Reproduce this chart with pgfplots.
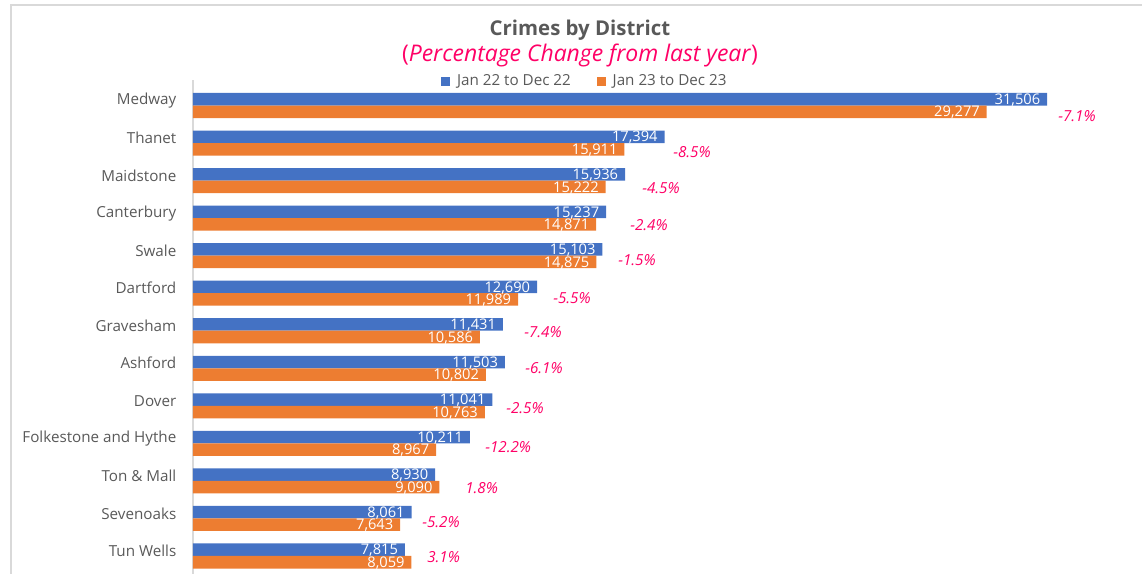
\documentclass[border=0pt]{standalone}
\usepackage{pgfplots}
\pgfplotsset{compat=1.18}
\usepackage{pgfplotstable}
\usepackage{fontspec}
\setmainfont{Open Sans}
\definecolor{cblue}{HTML}{4472C4}
\definecolor{corange}{HTML}{ED7D31}
\definecolor{cgray}{HTML}{595959}
\definecolor{cpink}{HTML}{FF0066}
\definecolor{cline}{HTML}{D9D9D9}
\newcommand{\lbl}{\fontsize{11.4}{13.5}\selectfont}
\newcommand{\vlbl}{\fontsize{11}{13}\selectfont}

\pgfplotstableread{
y v22 v23
12 31506 29277
11 17394 15911
10 15936 15222
9 15237 14871
8 15103 14875
7 12690 11989
6 11431 10586
5 11503 10802
4 11041 10763
3 10211 8967
2 8930 9090
1 8061 7643
0 7815 8059
}\crimes

\pgfplotstableread{
x y lbl
31907 11.72 -7.1
17706 10.76 -8.5
16562 9.80 -4.5
16120 8.82 -2.4
15677 7.88 -1.5
13279 6.87 -5.5
12210 5.97 -7.4
12246 5.01 -6.1
11546 3.94 -2.5
10771 2.90 -12.2
10033 1.81 1.8
8447 0.91 -5.2
8632 -0.03 3.1
}\pct

\begin{document}
\begin{tikzpicture}
\useasboundingbox (-144.75pt,0) rectangle (711.75pt,430.5pt);
\draw[cline, line width=1pt] (-136.5pt,0) -- (-136.5pt,426.75pt) -- (711.75pt,426.75pt);
\node[font=\fontsize{15.3}{18}\selectfont\bfseries, text=cgray] at (290.25pt,408pt) {Crimes by District};
\node[font=\fontsize{17.2}{20}\selectfont, text=cpink] at (290.25pt,389.25pt) {(\textit{Percentage Change from last year})};
\begin{axis}[
  at={(0pt,0pt)}, anchor=south west,
  scale only axis, width=691.3pt, height=370.5pt,
  xmin=0, xmax=34000, ymin=-0.48, ymax=12.68,
  axis x line=none, axis y line*=left,
  y axis line style={cline, line width=1pt, -},
  ytick={0,...,12},
  yticklabels={Tun Wells, Sevenoaks, Ton \& Mall, Folkestone and Hythe, Dover, Ashford, Gravesham, Dartford, Swale, Canterbury, Maidstone, Thanet, Medway},
  major tick length=0pt,
  yticklabel style={font=\lbl, text=cgray, xshift=-9pt, yshift=3.8pt},
  clip=false,
  legend style={at={(0.4255,0.9975)}, anchor=center, draw=none, fill=none,
    legend columns=2, font=\lbl, text=cgray,
    /tikz/every even column/.append style={column sep=17.5pt}},
]
\addlegendimage{legend image code/.code={\fill[cblue] (0pt,-3pt) rectangle (6pt,3pt); \path (9.5pt,0pt);}}
\addlegendentry{Jan 22 to Dec 22}
\addlegendimage{legend image code/.code={\fill[corange] (0pt,-3pt) rectangle (6pt,3pt); \path (9.5pt,0pt);}}
\addlegendentry{Jan 23 to Dec 23}

\addplot[xbar, bar width=9.4pt, bar shift=4.7pt, fill=cblue, draw=none, forget plot,
  point meta=x,
  nodes near coords={\pgfmathprintnumber[fixed,precision=0,1000 sep={,},assume math mode=true]{\pgfplotspointmeta}},
  every node near coord/.append style={anchor=base east, inner sep=0pt, xshift=-5pt, yshift=0.8pt, text=white, font=\vlbl}]
  table[x=v22, y=y] {\crimes};
\addplot[xbar, bar width=9.4pt, bar shift=-4.7pt, fill=corange, draw=none, forget plot,
  point meta=x,
  nodes near coords={\pgfmathprintnumber[fixed,precision=0,1000 sep={,},assume math mode=true]{\pgfplotspointmeta}},
  every node near coord/.append style={anchor=base east, inner sep=0pt, xshift=-5pt, yshift=-8.6pt, text=white, font=\vlbl}]
  table[x=v23, y=y] {\crimes};
\addplot[draw=none, mark=none, forget plot,
  point meta=explicit symbolic,
  nodes near coords={\pgfplotspointmeta\%},
  every node near coord/.append style={anchor=west, inner sep=0pt, text=cpink, font=\lbl\itshape}]
  table[x=x, y=y, meta=lbl] {\pct};
\end{axis}
\end{tikzpicture}
\end{document}
